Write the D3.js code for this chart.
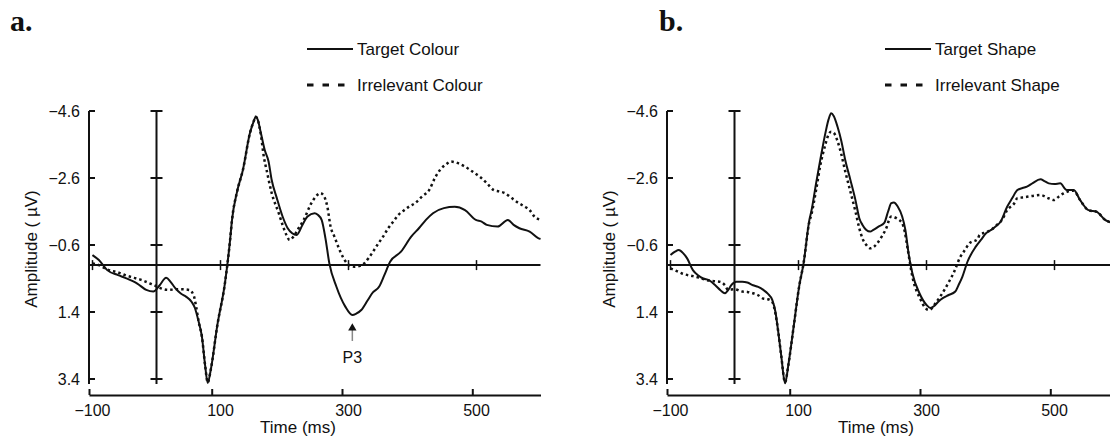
<!DOCTYPE html>
<html>
<head>
<meta charset="utf-8">
<script src="https://cdn.jsdelivr.net/npm/d3@7"></script>
<style>
  body { margin: 0; background: #fff; }
  text { font-family: "Liberation Sans", Arial, Helvetica, sans-serif; fill: #111; }
  .panel-letter { font-family: "Liberation Serif", "Times New Roman", serif; font-weight: bold; font-size: 30px; }
</style>
</head>
<body>
<div id="viz"></div>
<script>
"use strict";

var w = 1110;
var h = 441;

// tick values
var yTicks = [-4.6, -2.6, -0.6, 1.4, 3.4];
var timeTicks = [-100, 100, 300, 500];

// panel a: [time ms, amplitude uV]
var targetColour = [[-100,-0.3],[-90,-0.15],[-77,0.15],[-60,0.3],[-49,0.38],[-30,0.55],[-16,0.74],[-5,0.79],[5,0.6],
  [15,0.38],[22,0.5],[29,0.68],[38,0.85],[46,0.94],[55,1.1],[60,1.28],[66,1.7],[71,2.14],[76,3.0],[80,3.52],[85,3.1],
  [95,1.8],[107,0.53],[115,-0.75],[118,-1.35],[126,-2.2],[135,-2.84],[146,-3.94],[152,-4.3],[155,-4.43],[158,-4.35],
  [163,-3.95],[169,-3.44],[175,-3.1],[180,-2.54],[188,-2.0],[197,-1.45],[205,-1.1],[212,-0.95],[219,-0.9],[228,-1.2],
  [236,-1.45],[247,-1.55],[252,-1.5],[258,-1.35],[264,-0.8],[270,-0.06],[281,0.64],[295,1.24],[306,1.49],[312,1.45],
  [320,1.34],[330,1.05],[337,0.84],[348,0.64],[356,0.3],[365,-0.1],[382,-0.4],[398,-0.85],[410,-1.1],[421,-1.35],
  [432,-1.55],[449,-1.7],[466,-1.74],[482,-1.64],[499,-1.35],[508,-1.3],[516,-1.2],[533,-1.15],[549,-1.35],[558,-1.2],
  [567,-1.1],[583,-1.0],[597,-0.8],[600,-0.78]];

var irrelevantColour = [[-100,-0.05],[-90,0.0],[-77,0.13],[-60,0.22],[-49,0.3],[-35,0.38],[-21,0.46],[-10,0.55],[-4,0.6],
  [5,0.68],[18,0.74],[35,0.72],[51,0.74],[58,0.9],[62,1.25],[66,1.7],[71,2.14],[76,3.0],[80,3.5],[85,3.1],[95,1.8],
  [107,0.53],[115,-0.75],[118,-1.35],[126,-2.2],[135,-2.84],[146,-3.94],[152,-4.3],[155,-4.43],[158,-4.35],[163,-3.9],
  [168,-3.2],[172,-2.84],[180,-2.15],[191,-1.55],[197,-1.2],[203,-0.9],[208,-0.75],[214,-0.85],[222,-1.1],[230,-1.35],
  [242,-1.85],[249,-2.05],[256,-2.15],[262,-2.05],[267,-1.74],[272,-1.15],[278,-0.85],[284,-0.55],[291,-0.25],[298,-0.05],
  [309,0.05],[318,0.02],[325,-0.06],[331,-0.2],[337,-0.36],[345,-0.6],[354,-0.85],[362,-1.1],[370,-1.3],[378,-1.5],
  [387,-1.64],[395,-1.75],[404,-1.85],[415,-2.05],[426,-2.24],[435,-2.6],[443,-2.84],[452,-3.0],[460,-3.09],[470,-3.05],
  [482,-2.94],[493,-2.8],[505,-2.64],[516,-2.45],[527,-2.24],[535,-2.2],[544,-2.15],[555,-2.0],[566,-1.85],[575,-1.75],
  [583,-1.64],[591,-1.44],[600,-1.35]];

// panel b
var targetShape = [[-100,-0.3],[-93,-0.4],[-87,-0.45],[-80,-0.35],[-74,-0.2],[-65,0.15],[-57,0.3],[-49,0.4],[-40,0.45],
  [-30,0.6],[-22,0.75],[-15,0.84],[-10,0.75],[-5,0.6],[3,0.5],[12,0.5],[20,0.52],[29,0.6],[37,0.65],[45,0.74],[52,0.85],
  [59,1.04],[64,1.4],[68,1.94],[73,2.7],[79,3.53],[84,3.0],[92,1.9],[101,0.64],[108,-0.06],[117,-1.35],[120,-1.6],
  [128,-2.5],[134,-3.14],[142,-3.94],[147,-4.35],[151,-4.53],[155,-4.45],[161,-4.13],[167,-3.7],[173,-3.14],[181,-2.55],
  [189,-1.94],[195,-1.4],[200,-1.2],[206,-1.05],[212,-1.0],[217,-1.05],[225,-1.15],[234,-1.26],[240,-1.6],[245,-1.85],
  [249,-1.87],[255,-1.75],[262,-1.45],[267,-1.05],[272,-0.35],[278,0.25],[289,0.84],[300,1.19],[306,1.28],[312,1.22],
  [318,1.1],[326,0.98],[334,0.9],[345,0.79],[350,0.6],[356,0.35],[364,-0.1],[377,-0.55],[385,-0.75],[393,-0.95],
  [401,-1.05],[408,-1.15],[416,-1.3],[426,-1.74],[434,-2.0],[442,-2.24],[450,-2.3],[457,-2.34],[466,-2.45],[478,-2.56],
  [485,-2.5],[491,-2.44],[500,-2.42],[509,-2.44],[519,-2.24],[530,-2.24],[540,-1.94],[553,-1.64],[566,-1.59],[579,-1.35],
  [590,-1.25],[600,-1.1]];

var irrelevantShape = [[-100,0.1],[-90,0.18],[-82,0.25],[-65,0.33],[-55,0.38],[-43,0.45],[-30,0.48],[-22,0.5],[-15,0.6],
  [-10,0.74],[0,0.72],[12,0.79],[20,0.8],[29,0.84],[37,0.9],[45,1.0],[52,1.02],[59,1.1],[64,1.45],[68,1.94],[73,2.7],
  [79,3.5],[84,3.0],[92,1.9],[101,0.64],[108,-0.06],[117,-1.3],[120,-1.5],[128,-2.3],[134,-2.97],[142,-3.6],[147,-3.9],
  [151,-3.98],[155,-3.95],[161,-3.7],[167,-3.3],[173,-2.8],[181,-2.2],[189,-1.6],[195,-1.1],[201,-0.75],[206,-0.6],
  [212,-0.5],[218,-0.55],[223,-0.65],[230,-0.85],[236,-1.05],[245,-1.45],[253,-1.4],[262,-1.25],[266,-1.0],[270,-0.55],
  [278,0.35],[291,1.04],[297,1.25],[303,1.34],[308,1.3],[314,1.14],[321,0.95],[328,0.74],[335,0.5],[342,0.25],
  [353,-0.25],[360,-0.45],[367,-0.65],[380,-0.78],[383,-0.9],[393,-0.98],[401,-1.05],[410,-1.2],[418,-1.35],[426,-1.64],
  [437,-1.84],[442,-2.0],[450,-2.02],[457,-2.04],[468,-2.07],[478,-2.09],[490,-2.0],[499,-1.94],[507,-2.05],[514,-2.14],
  [522,-2.2],[530,-2.22],[540,-1.94],[553,-1.64],[566,-1.59],[579,-1.35],[590,-1.25],[600,-1.1]];

var svg = d3.select("#viz")
  .append("svg")
  .attr("width", w)
  .attr("height", h)

var y = d3.scaleLinear()
  .domain([-4.6, 3.4])
  .range([111, 379]);

var fmtY = d3.format(".1f");
var fmtX = d3.format("d");

function drawPanel(opt) {
  var g = svg.append("g")
    .attr("transform", "translate(" + opt.dx + ",0)");

  // data scale, and the slightly shifted scale used by the bottom axis ticks
  var x = d3.scaleLinear().domain([-100, 600]).range([92.5, 540.5]);
  var xTick = d3.scaleLinear().domain([-100, 100, 500, 600]).range([89, 211.7, 472.3, 540.5]);
  var axisX = 89;
  var axisBottomY = 395;
  var lineEndY = 384;

  g.append("text")
    .attr("class", "panel-letter")
    .attr("x", opt.letterX)
    .attr("y", 31)
    .text(opt.letter);

  // left axis
  g.append("line")
    .attr("x1", axisX).attr("x2", axisX)
    .attr("y1", y(-4.6)).attr("y2", lineEndY)
    .attr("stroke", "#111").attr("stroke-width", 2);
  g.selectAll("line.ytick")
    .data(yTicks).enter()
    .append("line")
    .attr("x1", axisX).attr("x2", axisX + 6)
    .attr("y1", function(d) { return y(d); })
    .attr("y2", function(d) { return y(d); })
    .attr("stroke", "#111").attr("stroke-width", 2);
  g.selectAll("text.ylab")
    .data(yTicks).enter()
    .append("text")
    .attr("x", axisX - 9)
    .attr("y", function(d) { return y(d); })
    .attr("dy", "0.35em")
    .attr("text-anchor", "end")
    .style("font-size", "16px")
    .text(function(d) { return fmtY(d); });

  // vertical line at stimulus onset
  g.append("line")
    .attr("x1", x(0)).attr("x2", x(0))
    .attr("y1", y(-4.6)).attr("y2", lineEndY)
    .attr("stroke", "#111").attr("stroke-width", 2);
  g.selectAll("line.vtick")
    .data(yTicks).enter()
    .append("line")
    .attr("x1", x(0) - 6).attr("x2", x(0) + 6)
    .attr("y1", function(d) { return y(d); })
    .attr("y2", function(d) { return y(d); })
    .attr("stroke", "#111").attr("stroke-width", 2);

  // zero line
  g.append("line")
    .attr("x1", axisX).attr("x2", x(600))
    .attr("y1", y(0)).attr("y2", y(0))
    .attr("stroke", "#111").attr("stroke-width", 2);
  g.selectAll("line.ztick")
    .data(timeTicks).enter()
    .append("line")
    .attr("x1", function(d) { return x(d); })
    .attr("x2", function(d) { return x(d); })
    .attr("y1", y(0) - 5).attr("y2", y(0) + 5)
    .attr("stroke", "#111").attr("stroke-width", 1.5);

  // bottom axis
  var bottom = g.append("g")
    .attr("transform", "translate(0," + axisBottomY + ")")
    .call(d3.axisBottom(xTick).tickValues(timeTicks).tickSize(-6).tickSizeOuter(0).tickFormat(""));
  bottom.selectAll("path, line").attr("stroke", "#111").attr("stroke-width", 2);

  g.selectAll("text.xlab")
    .data(timeTicks).enter()
    .append("text")
    .attr("x", function(d) { return x(d); })
    .attr("y", 416)
    .attr("text-anchor", "middle")
    .style("font-size", "16px")
    .text(function(d) { return fmtX(d); });

  g.append("text")
    .attr("x", 298)
    .attr("y", 433)
    .attr("text-anchor", "middle")
    .style("font-size", "17px")
    .text("Time (ms)");

  g.append("text")
    .attr("transform", "translate(31,249) rotate(-90)")
    .attr("dy", "0.35em")
    .attr("text-anchor", "middle")
    .style("font-size", "17px")
    .text("Amplitude ( \u00b5V)");

  // curves
  var line = d3.line()
    .x(function(d) { return x(d[0]); })
    .y(function(d) { return y(d[1]); })
    .curve(d3.curveMonotoneX);

  g.append("path")
    .datum(opt.solid)
    .attr("d", line)
    .attr("fill", "none")
    .attr("stroke", "#111")
    .attr("stroke-width", 2);

  g.append("path")
    .datum(opt.dashed)
    .attr("d", line)
    .attr("fill", "none")
    .attr("stroke", "#111")
    .attr("stroke-width", 2.5)
    .attr("stroke-dasharray", "2.5,3");

  // legend
  g.append("line")
    .attr("x1", 307).attr("x2", 353)
    .attr("y1", 49).attr("y2", 49)
    .attr("stroke", "#111").attr("stroke-width", 2);
  g.append("text")
    .attr("x", 357).attr("y", 49)
    .attr("dy", "0.35em")
    .style("font-size", "17px")
    .text(opt.solidName);
  g.append("line")
    .attr("x1", 307).attr("x2", 346)
    .attr("y1", 85).attr("y2", 85)
    .attr("stroke", "#111").attr("stroke-width", 3)
    .attr("stroke-dasharray", "6.5,9");
  g.append("text")
    .attr("x", 357).attr("y", 85)
    .attr("dy", "0.35em")
    .style("font-size", "17px")
    .text(opt.dashedName);

  return { g: g, x: x };
}

var pa = drawPanel({
  dx: 0, letter: "a.", letterX: 10,
  solid: targetColour, dashed: irrelevantColour,
  solidName: "Target Colour", dashedName: "Irrelevant Colour"
});

drawPanel({
  dx: 578, letter: "b.", letterX: 81,
  solid: targetShape, dashed: irrelevantShape,
  solidName: "Target Shape", dashedName: "Irrelevant Shape"
});

// P3 marker on panel a
var p3x = pa.x(306);
pa.g.append("line")
  .attr("x1", p3x).attr("x2", p3x)
  .attr("y1", 341).attr("y2", 330)
  .attr("stroke", "#888").attr("stroke-width", 1.5);
pa.g.append("path")
  .attr("d", d3.symbol().type(d3.symbolTriangle).size(30))
  .attr("transform", "translate(" + p3x + ",328)")
  .attr("fill", "#111");
pa.g.append("text")
  .attr("x", p3x)
  .attr("y", 363)
  .attr("text-anchor", "middle")
  .style("font-size", "16px")
  .text("P3");
</script>
</body>
</html>
